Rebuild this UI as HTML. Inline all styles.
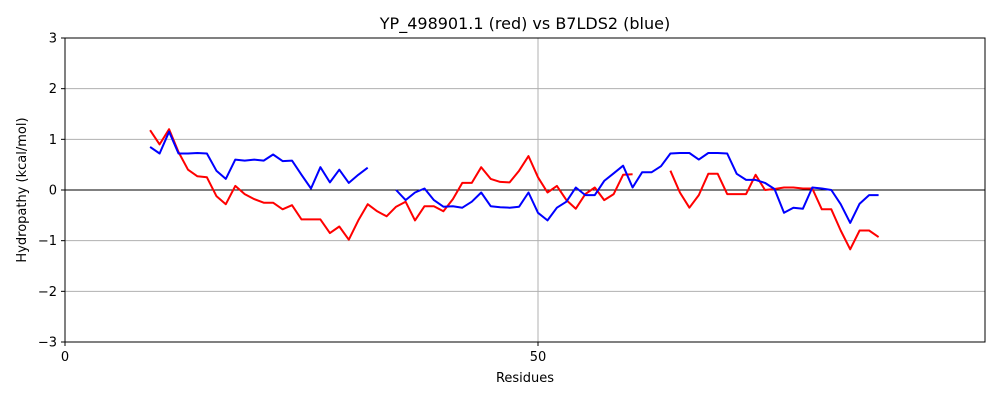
<!DOCTYPE html>
<html><head><meta charset="utf-8"><style>
body{margin:0;background:#fff;font-family:"Liberation Sans","DejaVu Sans",sans-serif}
svg text{font-family:"DejaVu Sans","Liberation Sans",sans-serif}
</style></head><body>
<svg id="chart" width="1000" height="400" xmlns="http://www.w3.org/2000/svg">
<rect width="1000" height="400" fill="#fff"/>
<g id="grid"></g>
<g id="series"></g>
<rect x="65" y="38" width="920" height="304" fill="none" stroke="#000" stroke-width="1"/>
<g id="ticks"></g>
<text x="525" y="29" text-anchor="middle" font-size="16">YP_498901.1 (red) vs B7LDS2 (blue)</text>
<text x="525" y="382" text-anchor="middle" font-size="13">Residues</text>
<text transform="translate(26,190) rotate(-90)" text-anchor="middle" font-size="13">Hydropathy (kcal/mol)</text>
</svg>
<script>
const xStart = 9;
const redValues = [1.18,0.9,1.2,0.75,0.4,0.27,0.25,-0.12,-0.28,0.08,-0.08,-0.18,-0.25,-0.25,-0.38,-0.3,-0.58,-0.58,-0.58,-0.85,-0.72,-0.98,-0.6,-0.28,-0.42,-0.52,-0.33,-0.23,-0.6,-0.32,-0.32,-0.42,-0.18,0.14,0.14,0.45,0.22,0.16,0.15,0.38,0.67,0.25,-0.05,0.08,-0.2,-0.37,-0.08,0.05,-0.2,-0.08,0.3,0.31,null,null,null,0.38,-0.05,-0.35,-0.1,0.32,0.32,-0.08,-0.08,-0.08,0.3,0.0,0.02,0.05,0.05,0.03,0.03,-0.38,-0.38,-0.8,-1.17,-0.8,-0.8,-0.93];
const blueValues = [0.85,0.72,1.15,0.72,0.72,0.73,0.72,0.38,0.22,0.6,0.58,0.6,0.58,0.7,0.57,0.58,0.3,0.03,0.45,0.15,0.4,0.14,0.3,0.44,null,null,0.0,-0.2,-0.05,0.03,-0.2,-0.33,-0.32,-0.35,-0.23,-0.05,-0.32,-0.34,-0.35,-0.33,-0.05,-0.45,-0.6,-0.35,-0.23,0.05,-0.1,-0.1,0.18,0.33,0.48,0.05,0.35,0.35,0.47,0.72,0.73,0.73,0.6,0.73,0.73,0.72,0.32,0.2,0.2,0.14,0.02,-0.45,-0.35,-0.37,0.05,0.03,0.0,-0.28,-0.65,-0.27,-0.1,-0.1];
const xTicks = [0,50];
const yTicks = [-3,-2,-1,0,1,2,3];
const X = v => 65 + v*9.46;
const Y = v => 190 - v*50.667;
const NS='http://www.w3.org/2000/svg';
function mk(tag,attrs,parent){const e=document.createElementNS(NS,tag);for(const k in attrs)e.setAttribute(k,attrs[k]);parent.appendChild(e);return e;}
const grid=document.getElementById('grid'), ticks=document.getElementById('ticks'), series=document.getElementById('series');
yTicks.forEach(t=>{
  const l=mk('line',{x1:65,x2:985,y1:Y(t),y2:Y(t),stroke:t===0?'#000':'#b0b0b0','stroke-width':1},grid);
  
  
  const tk=mk('line',{x1:61,x2:65,y1:Y(t),y2:Y(t),stroke:'#000'},ticks);
  
  
  const tx=mk('text',{x:57,y:Y(t)+4.5,'text-anchor':'end','font-size':13},ticks);
  tx.textContent=(t<0?'\u2212'+(-t):t);
  
  
});
xTicks.forEach(t=>{
  if(t>0){const l=mk('line',{x1:X(t),x2:X(t),y1:38,y2:342,stroke:'#b0b0b0'},grid);
  
  }
  const tk=mk('line',{x1:X(t),x2:X(t),y1:342,y2:346,stroke:'#000'},ticks);
  
  
  const tx=mk('text',{x:X(t),y:361,'text-anchor':'middle','font-size':13},ticks);
  tx.textContent=t;
  
  
});
function draw(vals,color,name){
  let d='',pen=false;
  vals.forEach((v,i)=>{
    if(v===null){pen=false;return;}
    d+=(pen?'L':'M')+X(xStart+i).toFixed(1)+' '+Y(v).toFixed(1)+' ';pen=true;
  });
  const p=mk('path',{d:d,fill:'none',stroke:color,'stroke-width':2,'stroke-linejoin':'round'},series);
  
  
}
draw(redValues,'#ff0000','red-series-line');
draw(blueValues,'#0000ff','blue-series-line');
</script>
</body></html>
